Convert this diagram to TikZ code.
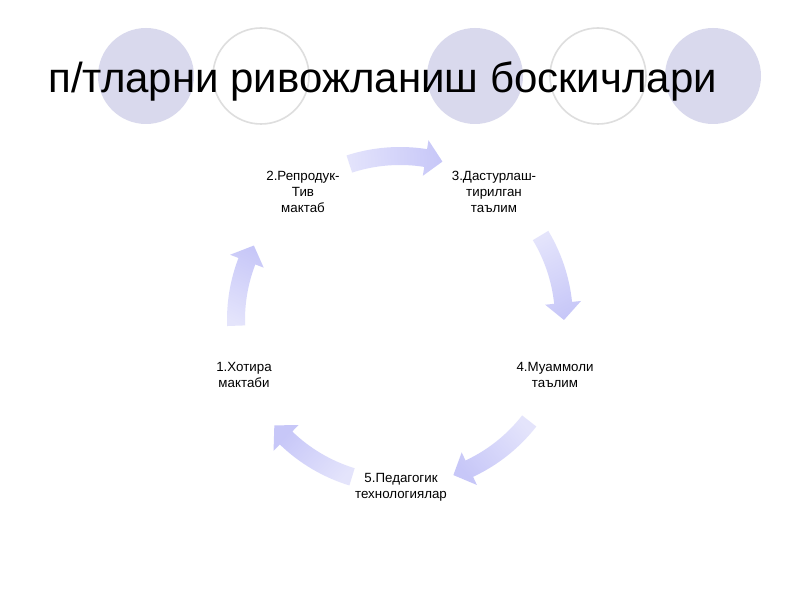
\documentclass[tikz,border=0pt]{standalone}
\usepackage{fontspec}
\setmainfont{Liberation Sans}
\usetikzlibrary{positioning}
\usetikzlibrary{fadings}

\definecolor{discfill}{RGB}{217,217,237}
\definecolor{ringline}{RGB}{222,222,222}
\definecolor{arrowfill}{RGB}{196,196,248}

\tikzfading[name=tailfade, left color=transparent!55, right color=transparent!5]

% curved block arrow round (cyc): start angle, tip angle, heading
\newcommand{\cyclearrow}[3]{%
  \fill[arrowfill,path fading=tailfade,fading transform={rotate=#3}]
    (#1:173) arc[start angle=#1, end angle={#2+6}, radius=173]
    -- ({#2+6}:182) -- (#2:164) -- ({#2+6}:146) -- ({#2+6}:155)
    arc[start angle={#2+6}, end angle=#1, radius=155] -- cycle;}

\begin{document}
\begin{tikzpicture}[x=0.75pt,y=0.75pt,
    disc/.style={circle,inner sep=0pt,minimum size=72pt,fill=discfill},
    ring/.style={circle,inner sep=0pt,minimum size=72pt,draw=ringline,line width=1.2pt,fill=white},
    stage/.style={align=center,font=\fontsize{10}{12}\selectfont},
    heading/.style={anchor=base west,inner sep=0pt,font=\fontsize{31.5}{36}\selectfont}]
  \useasboundingbox[fill=white] (0,0) rectangle (800,600);

  % circles behind the title
  \node[disc] (d1) at (146,524) {};
  \node[ring] (r1) at (261,524) {};
  \node[disc] (d2) at (475,524) {};
  \node[ring] (r2) at (598,524) {};
  \node[disc] (d3) at (713,524) {};

  \node[heading] (title) at (48,507) {п/тларни ривожланиш боскичлари};

  % cycle
  \coordinate (cyc) at (400,280);
  \begin{scope}[shift={(cyc)}]
    \foreach \s/\e in {182/153,108/75,31/0,-38/-71,-107/-140}{
      \pgfmathsetmacro\dir{(\s+\e)/2-90}
      \cyclearrow{\s}{\e}{\dir}
    }
  \end{scope}

  \node[stage] (st1) at (244,225) {1.Хотира\\мактаби};
  \node[stage] (st2) at (303,408) {2.Репродук-\\Тив\\мактаб};
  \node[stage] (st3) at (494,408) {3.Дастурлаш-\\тирилган\\таълим};
  \node[stage] (st4) at (555,225) {4.Муаммоли\\таълим};
  \node[stage] (st5) at (401,113) {5.Педагогик\\технологиялар};
\end{tikzpicture}
\end{document}
